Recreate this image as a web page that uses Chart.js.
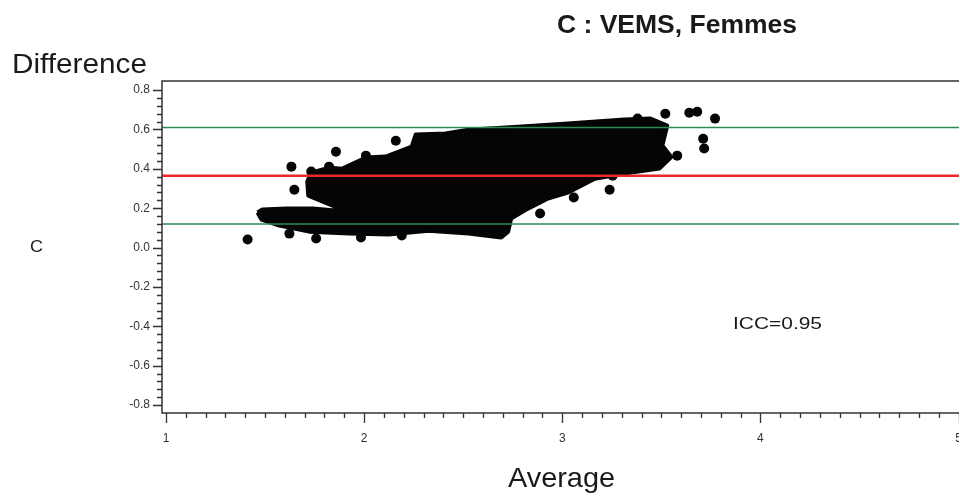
<!DOCTYPE html>
<html lang="fr">
<head>
  <meta charset="UTF-8" />
  <title>C : VEMS, Femmes</title>
  <script src="https://cdn.jsdelivr.net/npm/chart.js@4.4.0/dist/chart.umd.min.js"></script>
  <style>
    * { margin: 0; padding: 0; box-sizing: border-box; }
    body { background: #fff; width: 959px; height: 494px; overflow: hidden; }
    canvas { display: block; }
  </style>
</head>
<body>
  <canvas id="blandAltman" width="980" height="494"></canvas>

  <script>
    // axes
    const xTicks = [1, 2, 3, 4, 5];
    const yTicks = [-0.8, -0.6, -0.4, -0.2, 0.0, 0.2, 0.4, 0.6, 0.8];
    const xRange = [0.98, 5.02];
    const yRange = [-0.84, 0.846];

    // reference lines (mean difference and limits of agreement)
    const meanDiff = 0.365;
    const limits = [0.61, 0.12];

    // outline of the dense cloud of points
    const blobX = [1.462, 1.487, 1.61, 1.74, 1.914, 1.718, 1.713, 1.733, 1.823, 1.89, 2.009, 2.109, 2.24, 2.26, 2.411,
                   2.526, 2.777, 3.028, 3.314, 3.445, 3.53, 3.505, 3.55, 3.49, 3.314, 3.164, 3.028, 2.928, 2.827, 2.742,
                   2.727, 2.692, 2.526, 2.325, 2.124, 1.924, 1.723, 1.572, 1.482, 1.462];
    const blobY = [0.178, 0.193, 0.198, 0.198, 0.183, 0.264, 0.335, 0.381, 0.406, 0.401, 0.457, 0.462, 0.513, 0.574, 0.579,
                   0.599, 0.614, 0.630, 0.650, 0.655, 0.62, 0.518, 0.46, 0.401, 0.376, 0.350, 0.279, 0.249, 0.198, 0.147,
                   0.081, 0.051, 0.071, 0.086, 0.066, 0.071, 0.081, 0.112, 0.142, 0.178];

    // isolated points around the cloud
    const dotX = [1.412, 1.633, 1.648, 1.858, 2.160, 1.623, 1.758, 1.984, 2.190, 2.888, 3.058, 3.239,
                  3.520, 3.641, 3.681, 3.771, 3.711, 3.716, 3.580, 3.254, 1.823, 1.733, 2.009, 3.38];
    const dotY = [0.041, 0.411, 0.294, 0.487, 0.543, 0.071, 0.046, 0.051, 0.061, 0.173, 0.254, 0.294,
                  0.680, 0.685, 0.690, 0.655, 0.553, 0.503, 0.467, 0.365, 0.411, 0.386, 0.467, 0.655];

    const FONT = "'Liberation Sans', Arial, sans-serif";
    const INK = "#333";

    const toPts = (xs, ys) => xs.map((x, i) => ({ x: x, y: ys[i] }));
    const hLine = v => [{ x: xRange[0], y: v }, { x: xRange[1], y: v }];

    // text drawn a little wider than the font, like the original export
    function wideText(ctx, text, x, y, font, width) {
      ctx.font = font;
      const w = ctx.measureText(text).width;
      ctx.save();
      ctx.translate(x, y);
      ctx.scale(width / w, 1);
      ctx.textAlign = "left";
      ctx.fillText(text, 0, 0);
      ctx.restore();
    }

    // frame, tick marks and free text
    const decor = {
      id: "decor",
      afterDraw(chart) {
        const ctx = chart.ctx;
        const a = chart.chartArea;
        const xs = chart.scales.x, ys = chart.scales.y;
        ctx.save();
        ctx.strokeStyle = INK;
        ctx.lineWidth = 1.5;
        ctx.strokeRect(a.left, a.top, a.right - a.left, a.bottom - a.top);

        ctx.lineWidth = 1.3;
        ctx.beginPath();
        for (let i = 0; i < xTicks.length; i++) {
          for (let k = 0; k < 10; k++) {
            if (i === xTicks.length - 1 && k > 0) break;
            const v = xTicks[i] + k * 0.1;
            const px = Math.round(xs.getPixelForValue(v)) + 0.5;
            ctx.moveTo(px, a.bottom);
            ctx.lineTo(px, a.bottom + (k === 0 ? 10 : 5));
          }
        }
        for (let i = 0; i < yTicks.length; i++) {
          for (let k = 0; k < 5; k++) {
            if (i === yTicks.length - 1 && k > 0) break;
            const v = yTicks[i] + k * 0.04;
            const py = Math.round(ys.getPixelForValue(v)) + 0.5;
            ctx.moveTo(a.left, py);
            ctx.lineTo(a.left - (k === 0 ? 9 : 5), py);
          }
        }
        ctx.stroke();

        ctx.fillStyle = "#1a1a1a";
        ctx.textBaseline = "alphabetic";
        wideText(ctx, "C : VEMS, Femmes", 557, 33, "bold 26px " + FONT, 240);
        wideText(ctx, "Difference", 12, 73, "27px " + FONT, 135);
        wideText(ctx, "Average", 508, 487, "28px " + FONT, 107);
        wideText(ctx, "C", 30, 252, "17px " + FONT, 13);
        wideText(ctx, "ICC=0.95", 733, 329, "16px " + FONT, 89);
        ctx.restore();
      }
    };

    new Chart(document.getElementById("blandAltman"), {
      type: "scatter",
      data: {
        datasets: [
          {
            label: "Moyenne",
            data: hLine(meanDiff),
            showLine: true,
            borderColor: "#f0262b",
            borderWidth: 2.6,
            pointRadius: 0,
            order: 0
          },
          ...limits.map(v => ({
            label: "Limite",
            data: hLine(v),
            showLine: true,
            borderColor: "#2f8a58",
            borderWidth: 1.4,
            pointRadius: 0,
            order: 0
          })),
          {
            label: "Nuage",
            data: toPts(blobX, blobY),
            showLine: true,
            fill: "shape",
            backgroundColor: "#050505",
            borderColor: "#050505",
            borderWidth: 4,
            borderJoinStyle: "round",
            tension: 0,
            pointRadius: 0,
            order: 2
          },
          {
            label: "Points",
            data: toPts(dotX, dotY),
            backgroundColor: "#050505",
            borderWidth: 0,
            pointRadius: 5,
            order: 1
          }
        ]
      },
      options: {
        responsive: false,
        animation: false,
        layout: { padding: { top: 81, right: 14, left: 0, bottom: 0 } },
        plugins: {
          legend: { display: false },
          tooltip: { enabled: false }
        },
        scales: {
          x: {
            type: "linear",
            min: xRange[0],
            max: xRange[1],
            afterBuildTicks: s => { s.ticks = xTicks.map(v => ({ value: v })); },
            afterFit: s => { s.height = 81; },
            grid: { display: false, drawTicks: false },
            border: { display: false },
            ticks: {
              padding: 18,
              color: INK,
              font: { family: FONT, size: 12 },
              callback: v => String(v)
            }
          },
          y: {
            type: "linear",
            min: yRange[0],
            max: yRange[1],
            afterBuildTicks: s => { s.ticks = yTicks.map(v => ({ value: v })); },
            afterFit: s => { s.width = 162; },
            grid: { display: false, drawTicks: false },
            border: { display: false },
            ticks: {
              padding: 12,
              color: INK,
              font: { family: FONT, size: 12 },
              callback: v => Number(v).toFixed(1)
            }
          }
        }
      },
      plugins: [decor]
    });
  </script>
</body>
</html>
